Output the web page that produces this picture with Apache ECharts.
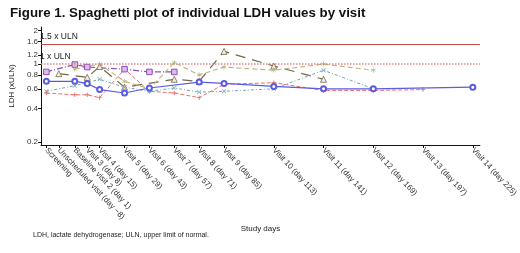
<!DOCTYPE html>
<html>
<head>
<meta charset="utf-8">
<script src="https://cdn.jsdelivr.net/npm/echarts@6/dist/echarts.min.js"></script>
<style>
  html, body { margin: 0; padding: 0; background: #fff; }
  #chart { width: 520px; height: 253px; }
</style>
</head>
<body>
<div id="chart"></div>
<script>
// visit days (x positions) and tick labels
const visitDays = [-15, -8, 1, 8, 15, 29, 43, 57, 71, 85, 113, 141, 169, 197, 225]
const visitLabels = ['Screening', 'Unscheduled visit (day \u22128)', 'Baseline visit 2 (day 1)', 'Visit 3 (day 8)',
  'Visit 4 (day 15)', 'Visit 5 (day 29)', 'Visit 6 (day 43)', 'Visit 7 (day 57)', 'Visit 8 (day 71)',
  'Visit 9 (day 85)', 'Visit 10 (day 113)', 'Visit 11 (day 141)', 'Visit 12 (day 169)', 'Visit 13 (day 197)',
  'Visit 14 (day 225)']
const yTicks = [0.2, 0.4, 0.6, 0.8, 1, 1.2, 1.6, 2]

// LDH (xULN) per visit, null = no value
const pBlue   = [0.70, null, 0.70, 0.67, 0.59, 0.55, 0.61, null, 0.69, 0.67, 0.63, 0.60, 0.60, null, 0.62]
const pRed    = [0.55, null, 0.53, 0.53, 0.50, 0.90, 0.57, 0.55, 0.50, 0.66, 0.68, 0.58, 0.58, 0.59, null]
const pPurple = [0.85, null, 0.99, 0.94, null, 0.90, 0.85, 0.85, null, null, null, null, null, null, null]
const pOlive  = [null, 0.82, null, 0.76, 0.95, 0.62, null, 0.73, 0.70, 1.30, 0.96, 0.73, null, null, null]
const pKhaki  = [null, null, 0.90, null, 1.00, 0.70, 0.60, 1.03, 0.80, 0.94, 0.88, 1.00, 0.88, null, null]
const pTeal   = [0.57, null, 0.64, null, 0.73, 0.62, 0.57, 0.61, 0.56, 0.57, 0.60, 0.88, 0.60, null, null]

const uln15 = 1.5
const uln1 = 1

function pairs(vals) {
  return visitDays.map((d, i) => [d, vals[i]]).filter(p => p[1] != null)
}

const plusPath = 'path://M4,0h2v4h4v2h-4v4h-2v-4h-4v-2h4z'
const crossPath = 'path://M1,0L5,4L9,0L10,1L6,5L10,9L9,10L5,6L1,10L0,9L4,5L0,1z'
const starPath = 'path://M4.4,0h1.2v3.9l3.4,-2l0.6,1l-3.4,2.1l3.4,2.1l-0.6,1l-3.4,-2v3.9h-1.2v-3.9l-3.4,2l-0.6,-1l3.4,-2.1l-3.4,-2.1l0.6,-1l3.4,2z'

const chart = echarts.init(document.getElementById('chart'))

chart.setOption({
  animation: false,
  textStyle: { fontFamily: 'Liberation Sans, Arial, sans-serif' },
  title: {
    text: 'Figure 1. Spaghetti plot of individual LDH values by visit',
    left: 5,
    top: 2,
    textStyle: { fontSize: 13.3, fontWeight: 'bold', color: '#111' }
  },
  grid: { left: 33, right: 40, top: 27, bottom: 108 },
  xAxis: {
    type: 'value',
    min: -18,
    max: 229,
    name: 'Study days',
    nameLocation: 'middle',
    nameGap: 80,
    nameTextStyle: { fontSize: 8, color: '#222' },
    splitLine: { show: false },
    axisLine: { onZero: false, lineStyle: { color: '#111', width: 1 } },
    axisTick: { length: 3, customValues: visitDays, lineStyle: { color: '#111' } },
    axisLabel: {
      customValues: visitDays,
      rotate: -47,
      fontSize: 8,
      color: '#333',
      margin: 4,
      formatter: v => visitLabels[visitDays.indexOf(v)] || ''
    }
  },
  yAxis: {
    type: 'log',
    logBase: 10,
    min: 0.188,
    max: 2.15,
    name: 'LDH (xULN)',
    nameLocation: 'middle',
    nameGap: 22,
    nameTextStyle: { fontSize: 8, color: '#222' },
    splitLine: { show: false },
    axisLine: { show: true, onZero: false, lineStyle: { color: '#111', width: 1 } },
    axisTick: { show: true, length: 3, customValues: yTicks, lineStyle: { color: '#111' } },
    axisLabel: {
      customValues: yTicks,
      fontSize: 8,
      color: '#333',
      margin: 3,
      formatter: v => String(+v.toFixed(2))
    }
  },
  series: [
    {
      name: 'blue', type: 'line', data: pairs(pBlue),
      symbol: 'emptyCircle', symbolSize: 5,
      lineStyle: { color: '#5b5be3', width: 1.2 },
      itemStyle: { color: '#5b5be3', borderWidth: 1.1 },
      z: 5,
      markLine: {
        silent: true,
        symbol: 'none',
        data: [
          {
            yAxis: uln15,
            lineStyle: { color: '#c0504d', type: 'solid', width: 1.2 },
            label: { formatter: '1.5 x ULN', position: 'insideStartTop', fontSize: 8.5, color: '#222', distance: [-1, 3] }
          },
          {
            yAxis: uln1,
            lineStyle: { color: '#d9868a', type: 'dotted', width: 1.5 },
            label: { formatter: '1 x ULN', position: 'insideStartTop', fontSize: 8.5, color: '#222', distance: [-1, 3] }
          }
        ]
      }
    },
    {
      name: 'red', type: 'line', data: pairs(pRed),
      symbol: plusPath, symbolSize: 4.5,
      lineStyle: { color: '#e6706c', width: 1, type: [4, 2] },
      itemStyle: { color: '#e6706c' }
    },
    {
      name: 'purple', type: 'line', data: pairs(pPurple),
      symbol: 'rect', symbolSize: 5.5,
      lineStyle: { color: '#8c4fb5', width: 1.2, type: [6, 2, 1, 2] },
      itemStyle: { color: '#dcbcec', borderColor: '#8c4fb5', borderWidth: 1 }
    },
    {
      name: 'olive', type: 'line', data: pairs(pOlive),
      symbol: 'triangle', symbolSize: 6,
      lineStyle: { color: '#75674a', width: 1.2, type: [10, 7] },
      itemStyle: { color: '#f3efe0', borderColor: '#75674a', borderWidth: 0.8 }
    },
    {
      name: 'khaki', type: 'line', data: pairs(pKhaki),
      symbol: starPath, symbolSize: 5,
      lineStyle: { color: '#bab47a', width: 1.1, type: [5, 3] },
      itemStyle: { color: '#bab47a' }
    },
    {
      name: 'teal', type: 'line', data: pairs(pTeal),
      symbol: crossPath, symbolSize: 4.5,
      lineStyle: { color: '#6aa6b0', width: 1, type: [3, 2, 1, 2] },
      itemStyle: { color: '#6aa6b0' }
    }
  ],
  graphic: [
    {
      type: 'text', left: 33, top: 232,
      style: { text: 'LDH, lactate dehydrogenase; ULN, upper limit of normal.', fontSize: 7, fill: '#222', fontFamily: 'Liberation Sans, Arial, sans-serif' }
    }
  ]
})
</script>
</body>
</html>
